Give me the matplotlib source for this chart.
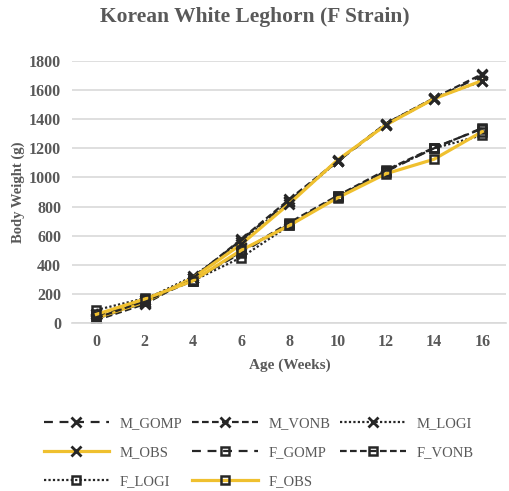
import matplotlib.pyplot as plt

weeks = [0, 2, 4, 6, 8, 10, 12, 14, 16]

m_gomp = [30, 140, 310, 570, 840, 1110, 1360, 1540, 1700]
m_vonb = [20, 130, 310, 575, 850, 1115, 1370, 1545, 1710]
m_logi = [60, 160, 320, 560, 830, 1110, 1370, 1545, 1660]
m_obs = [35, 145, 310, 540, 820, 1120, 1360, 1540, 1665]
f_gomp = [50, 160, 295, 480, 680, 870, 1040, 1200, 1340]
f_vonb = [35, 150, 290, 490, 690, 875, 1050, 1205, 1335]
f_logi = [90, 170, 290, 450, 670, 865, 1045, 1200, 1290]
f_obs = [60, 165, 290, 500, 670, 860, 1025, 1125, 1315]

yticks = [0, 200, 400, 600, 800, 1000, 1200, 1400, 1600, 1800]

grey = "#595959"
dark = "#262626"
gold = "#EFC02F"

plt.rcParams["font.family"] = ["Liberation Serif", "DejaVu Serif"]

fig = plt.figure(figsize=(5.09, 4.91), dpi=100)
ax = fig.add_axes([0.142, 0.342, 0.853, 0.534])

gomp_ls = (0, (4, 3))
vonb_ls = (0, (3, 1.5))
logi_ls = (0, (1, 1))

lines = {}
lines["M_GOMP"], = ax.plot(weeks, m_gomp, color=dark, lw=1.6, ls=gomp_ls,
                           marker="x", ms=6.5, mew=2, label="M_GOMP")
lines["M_VONB"], = ax.plot(weeks, m_vonb, color=dark, lw=1.6, ls=vonb_ls,
                           marker="x", ms=6.5, mew=2, label="M_VONB")
lines["M_LOGI"], = ax.plot(weeks, m_logi, color=dark, lw=1.6, ls=logi_ls,
                           marker="x", ms=6.5, mew=2, label="M_LOGI")
lines["M_OBS"], = ax.plot(weeks, m_obs, color=gold, lw=2.3, marker="x", ms=6.5,
                          mew=2, mec=dark, label="M_OBS")
lines["F_GOMP"], = ax.plot(weeks, f_gomp, color=dark, lw=1.6, ls=gomp_ls,
                           marker="s", ms=6, mew=1.8, mfc="none", label="F_GOMP")
lines["F_VONB"], = ax.plot(weeks, f_vonb, color=dark, lw=1.6, ls=vonb_ls,
                           marker="s", ms=6, mew=1.8, mfc="none", label="F_VONB")
lines["F_LOGI"], = ax.plot(weeks, f_logi, color=dark, lw=1.6, ls=logi_ls,
                           marker="s", ms=6, mew=1.8, mfc="none", label="F_LOGI")
lines["F_OBS"], = ax.plot(weeks, f_obs, color=gold, lw=2.3, marker="s", ms=6,
                          mew=1.8, mec=dark, mfc="none", label="F_OBS")

ax.set_xlim(-1, 17)
ax.set_ylim(0, 1800)
ax.set_xticks(weeks)
ax.set_yticks(yticks)
ax.grid(axis="y", color="#d9d9d9", lw=1.2)
ax.set_axisbelow(True)
for s in ["top", "right", "left"]:
    ax.spines[s].set_visible(False)
ax.spines["bottom"].set_color("#d9d9d9")
ax.spines["bottom"].set_linewidth(1.2)
ax.tick_params(length=0, labelsize=11.5, labelcolor=grey, pad=8)
for lab in ax.get_xticklabels() + ax.get_yticklabels():
    lab.set_fontweight("bold")

ax.set_xlabel("Age (Weeks)", fontsize=11, fontweight="bold", color=grey, labelpad=6)
ax.set_ylabel("Body Weight (g)", fontsize=10.5, fontweight="bold", color=grey, labelpad=3)
fig.text(0.5, 0.966, "Korean White Leghorn (F Strain)", ha="center", va="center",
         fontsize=15.5, fontweight="bold", color=grey)

order = ["M_GOMP", "M_OBS", "F_LOGI", "M_VONB", "F_GOMP", "F_OBS", "M_LOGI", "F_VONB"]
leg = fig.legend([lines[k] for k in order], order, ncol=3, loc="center left",
                 bbox_to_anchor=(0.06, 0.078), frameon=False,
                 prop={"family": "Liberation Serif", "size": 10.5},
                 handlelength=4.5, handletextpad=0.7, columnspacing=0.7,
                 labelspacing=1.1, labelcolor=grey)

fig.savefig("out.png", dpi=100)
